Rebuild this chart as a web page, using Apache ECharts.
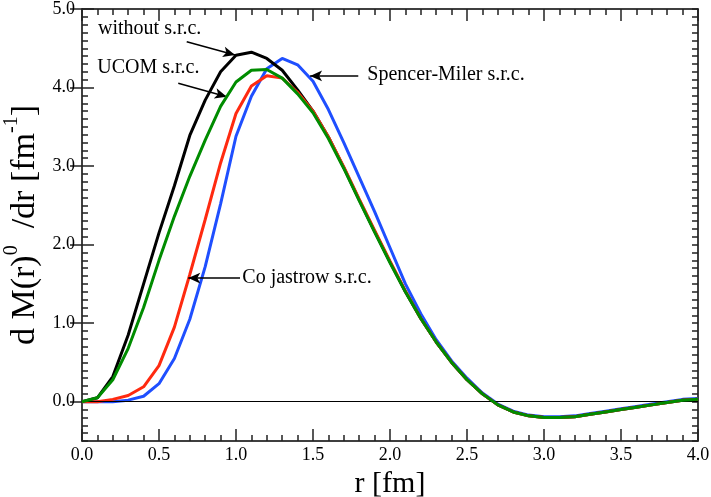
<!DOCTYPE html>
<html><head><meta charset="utf-8">
<script src="https://cdn.jsdelivr.net/npm/echarts@6/dist/echarts.min.js"></script>
<style>html,body{margin:0;padding:0;background:#fff}#c{width:711px;height:497px}</style>
</head><body><div id="c"></div>
<script>
const r = [0.0,0.1,0.2,0.3,0.4,0.5,0.6,0.7,0.8,0.9,1.0,1.1,1.2,1.3,1.4,1.5,1.6,1.7,1.8,1.9,2.0,
           2.1,2.2,2.3,2.4,2.5,2.6,2.7,2.8,2.9,3.0,3.1,3.2,3.3,3.4,3.5,3.6,3.7,3.8,3.9,4.0];
const withoutSrc = [0.00,0.05,0.32,0.85,1.50,2.15,2.75,3.39,3.84,4.20,4.41,4.45,4.37,4.22,3.97,3.70,3.37,2.98,2.57,2.17,1.78,
                    1.40,1.06,0.76,0.50,0.28,0.10,-0.04,-0.13,-0.18,-0.20,-0.20,-0.19,-0.16,-0.13,-0.10,-0.07,-0.04,-0.01,0.02,0.03];
const ucomSrc    = [0.00,0.05,0.28,0.68,1.20,1.80,2.36,2.87,3.33,3.76,4.07,4.22,4.23,4.12,3.92,3.68,3.35,2.97,2.56,2.16,1.77,
                    1.40,1.06,0.76,0.50,0.28,0.10,-0.04,-0.13,-0.18,-0.20,-0.20,-0.19,-0.16,-0.13,-0.10,-0.07,-0.04,-0.01,0.02,0.03];
const jastrowSrc = [0.00,0.00,0.03,0.08,0.19,0.46,0.95,1.62,2.32,3.04,3.67,4.02,4.15,4.12,3.94,3.70,3.37,2.99,2.58,2.18,1.79,
                    1.41,1.06,0.76,0.50,0.28,0.10,-0.04,-0.13,-0.18,-0.20,-0.20,-0.19,-0.16,-0.13,-0.10,-0.07,-0.04,-0.01,0.02,0.03];
const spencerSrc = [0.00,0.00,0.00,0.02,0.07,0.23,0.55,1.05,1.72,2.52,3.38,3.89,4.24,4.37,4.29,4.08,3.72,3.30,2.86,2.42,1.96,
                    1.50,1.12,0.79,0.52,0.30,0.11,-0.03,-0.12,-0.17,-0.19,-0.19,-0.18,-0.15,-0.12,-0.09,-0.06,-0.03,0.00,0.03,0.04];

const yMajorTicks = [0,1,2,3,4,5];
const labelTexts = ['without s.r.c.','UCOM s.r.c.','Spencer-Miler s.r.c.','Co jastrow s.r.c.'];
const labelAnchors = [[0.104,4.746],[0.099,4.249],[1.853,4.16],[1.041,1.584]];
const arrowFrom = [[0.680,4.584],[0.625,4.055],[1.794,4.148],[1.026,1.574]];
const arrowTo   = [[0.994,4.415],[0.940,3.884],[1.481,4.148],[0.690,1.574]];

const SERIF = 'Liberation Serif';
const chart = echarts.init(document.getElementById('c'));
const pairs = a => r.map((x,i)=>[x,a[i]]);
const TICK = {color:'#222', width:1.5};

const xBase = {
  type:'value', min:0, max:4, interval:0.5,
  axisLine:{show:true, onZero:false, lineStyle:{color:'#000', width:1.5}},
  axisTick:{show:true, inside:true, length:12, lineStyle:TICK},
  minorTick:{show:true, splitNumber:5, length:6, lineStyle:TICK},
  splitLine:{show:false}
};
const yMinor = {
  type:'value', min:-0.5, max:5, interval:0.5,
  axisLine:{show:true, onZero:false, lineStyle:{color:'#000', width:1.5}},
  axisTick:{show:true, inside:true, length:6, lineStyle:TICK},
  minorTick:{show:true, splitNumber:5, length:6, lineStyle:TICK},
  splitLine:{show:false}
};
const yMajor = {
  type:'value', min:-0.5, max:5,
  axisLine:{show:false},
  axisTick:{show:true, inside:true, length:12, lineStyle:TICK, customValues:yMajorTicks},
  axisLabel:{show:false},
  splitLine:{show:false}
};

function lineSeries(name, data, color, z){
  return {name, type:'line', data:pairs(data), symbol:'none', z,
          lineStyle:{color, width:3}, itemStyle:{color}, animation:false};
}

const option = {
  animation:false,
  backgroundColor:'#fff',
  grid:{left:82, right:13, top:9, bottom:56, containLabel:false, outerBoundsMode:'none'},
  xAxis:[
    Object.assign({}, xBase, {position:'bottom',
      axisLabel:{show:true, margin:5, fontFamily:SERIF, fontSize:18, color:'#000',
                 formatter:v=>v.toFixed(1)},
      name:'r [fm]', nameLocation:'middle', nameGap:18,
      nameTextStyle:{fontFamily:SERIF, fontSize:30, color:'#000'}}),
    Object.assign({}, xBase, {position:'top', axisLabel:{show:false}})
  ],
  yAxis:[
    Object.assign({}, yMinor, {position:'left',
      axisLabel:{show:true, margin:7, fontFamily:SERIF, fontSize:18, color:'#000',
                 formatter:v=> (Math.abs(v - Math.round(v))<1e-9 ? v.toFixed(1) : '')},
      name:'{m|d M(r)}{s|0}{m|  /dr [fm}{s|-1}{m|]}', nameLocation:'middle', nameGap:29, nameRotate:90,
      nameTextStyle:{fontFamily:SERIF, fontSize:34, color:'#000',
        rich:{m:{fontFamily:SERIF, fontSize:34, color:'#000', lineHeight:40, verticalAlign:'bottom'},
              s:{fontFamily:SERIF, fontSize:20, color:'#000', lineHeight:40, verticalAlign:'top'}}}}),
    Object.assign({}, yMinor, {position:'right', axisLabel:{show:false}}),
    Object.assign({}, yMajor, {position:'left'}),
    Object.assign({}, yMajor, {position:'right'})
  ],
  series:[
    Object.assign(lineSeries('Spencer-Miler s.r.c.', spencerSrc, '#1f4fff', 2), {
      markLine:{silent:true, symbol:['none','none'], animation:false,
        lineStyle:{color:'#000', width:1, type:'solid'}, label:{show:false},
        data:[{yAxis:0}]}
    }),
    lineSeries('without s.r.c.', withoutSrc, '#000000', 3),
    lineSeries('Co jastrow s.r.c.', jastrowSrc, '#ff2a10', 4),
    Object.assign(lineSeries('UCOM s.r.c.', ucomSrc, '#008c00', 5), {
      markLine:{silent:true, symbol:['none','arrow'], symbolSize:[8,12], animation:false,
        lineStyle:{color:'#000', width:1.5, type:'solid'}, label:{show:false},
        data: arrowFrom.map((f,i)=>[{coord:f},{coord:arrowTo[i]}])},
      markPoint:{silent:true, symbol:'circle', symbolSize:0, animation:false,
        label:{show:true, position:'right', distance:0, fontFamily:SERIF, fontSize:20, color:'#000',
               formatter:p=>p.name},
        data: labelTexts.map((t,i)=>({name:t, coord:labelAnchors[i], value:t}))}
    })
  ]
};
chart.setOption(option);
</script></body></html>
